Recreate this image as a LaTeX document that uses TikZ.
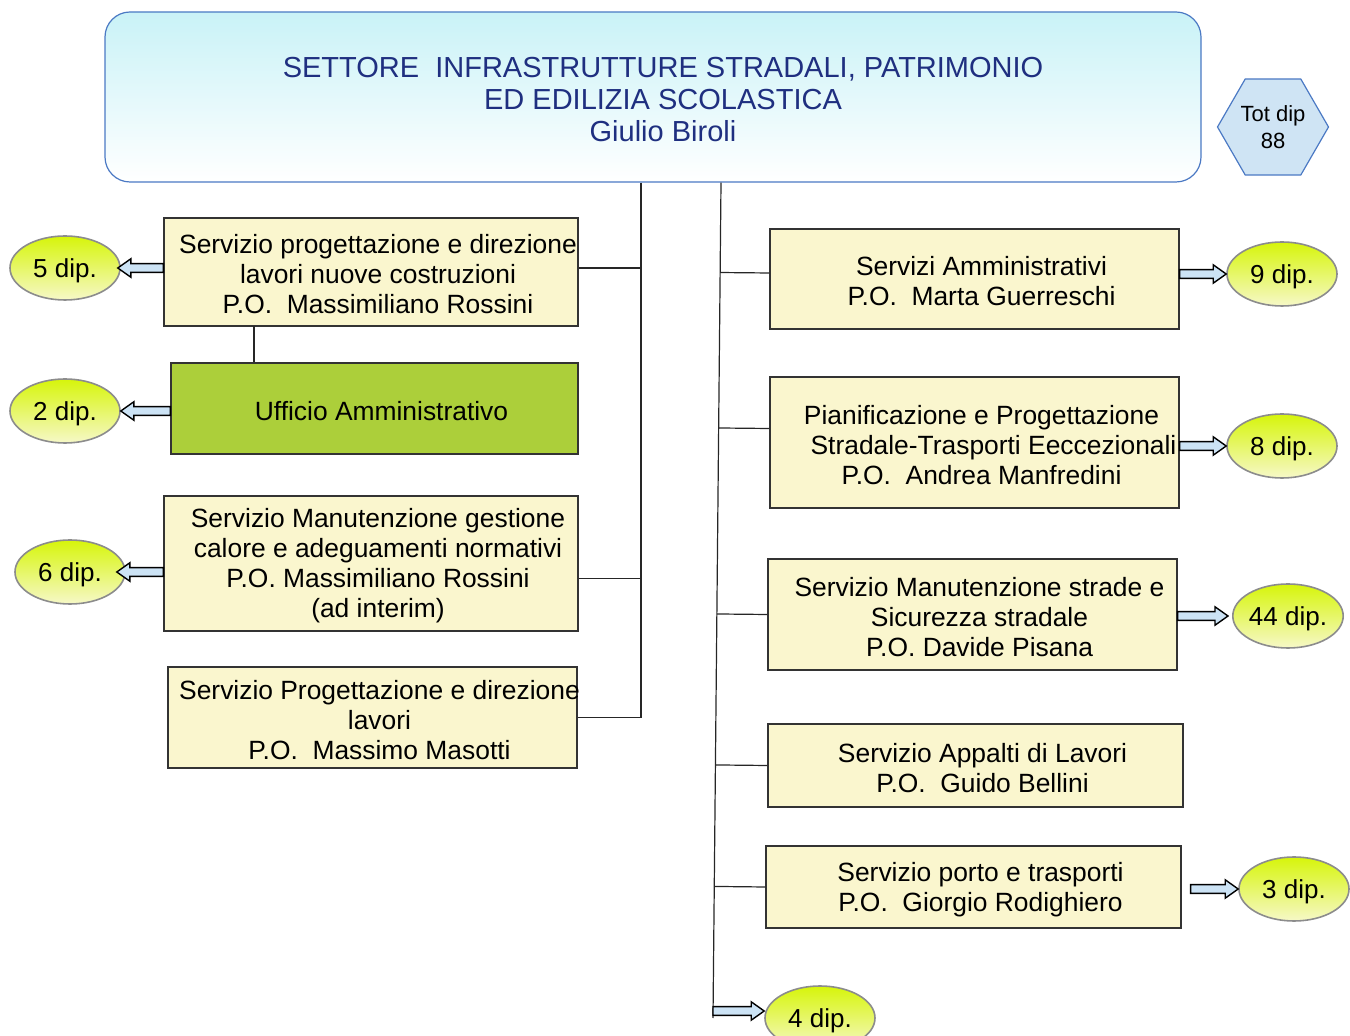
\documentclass[tikz,border=0pt]{standalone}
\usepackage{fontspec}
\setmainfont{Liberation Sans}
\usetikzlibrary{calc,shapes.geometric}

\begin{document}
\begin{tikzpicture}[x = 0.5pt, y = -0.5pt,
  testo/.style = {font = \fontsize{13.2pt}{15pt}\selectfont, align = center, inner sep = 0pt, shift = {(7,2.5)}},
  servizio/.style = {draw = black!80, line width = 0.6pt, fill = boxYellow, inner sep = 0pt},
  dip/.style = {ellipse, draw = black!45, line width = 0.8pt, top color = dipTop, bottom color = dipBottom,
    minimum width = 55pt, minimum height = 32pt, inner sep = 0pt, text depth = 0pt,
    font = \fontsize{13pt}{15pt}\selectfont},
  linea/.style = {draw = black!85, line width = 0.6pt},
  freccia/.style = {draw = black, line width = 0.7pt, fill = arrowBlue, to path = {
    let \p1 = (\tikztostart), \p2 = (\tikztotarget), \n1 = {atan2(\y2-\y1,\x2-\x1)},
        \p3 = ($(\p2)+(\n1+180:6.5pt)$) in
    ($(\p1)+(\n1+90:2.2pt)$) -- ($(\p3)+(\n1+90:2.2pt)$) -- ($(\p3)+(\n1+90:4.6pt)$) -- (\p2)
    -- ($(\p3)+(\n1-90:4.6pt)$) -- ($(\p3)+(\n1-90:2.2pt)$) -- ($(\p1)+(\n1-90:2.2pt)$) -- cycle}}
]
  \definecolor{boxYellow}{HTML}{FAF6CE};
  \definecolor{officeGreen}{HTML}{ACCF3A};
  \definecolor{dipTop}{HTML}{D6F50A};
  \definecolor{dipBottom}{HTML}{F6F8C8};
  \definecolor{arrowBlue}{HTML}{CCE3F5};
  \definecolor{frameBlue}{HTML}{4B79C4};
  \definecolor{headCyan}{HTML}{C9F2F7};
  \definecolor{titleBlue}{HTML}{1F2F80};
  \definecolor{hexBlue}{HTML}{CFE4F4};

  \useasboundingbox (0,0) rectangle (1350,1036);

  % intestazione
  \node[draw = frameBlue, line width = 0.6pt, rounded corners = 12.5pt, top color = headCyan, bottom color = white,
    minimum width = 548pt, minimum height = 85pt] (settore) at (653,97) {};
  \node[testo, shift = {(3,0.5)}, text = titleBlue, font = \fontsize{14.5pt}{16pt}\selectfont] (settoret) at (settore)
    {SETTORE\ \ INFRASTRUTTURE STRADALI, PATRIMONIO\\ED EDILIZIA SCOLASTICA\\Giulio Biroli};
  \node[regular polygon, regular polygon sides = 6, minimum size = 55.5pt, inner sep = 0pt, draw = frameBlue,
    line width = 0.6pt, fill = hexBlue, align = center, font = \fontsize{11pt}{13.5pt}\selectfont] (totdip)
    at (1273,127) {Tot dip\\88};

  % servizi a sinistra
  \node[servizio, minimum width = 207pt, minimum height = 54pt] (l1) at (371,272) {};
  \node[testo] (l1t) at (l1) {Servizio progettazione e direzione\\lavori nuove costruzioni\\P.O.\ \ Massimiliano Rossini};
  \node[servizio, fill = officeGreen, minimum width = 203.5pt, minimum height = 45.5pt] (l2) at (374.5,408.5) {};
  \node[testo] (l2t) at (l2) {Ufficio Amministrativo};
  \node[servizio, minimum width = 207pt, minimum height = 67.5pt] (l3) at (371,563.5) {};
  \node[testo] (l3t) at (l3) {Servizio Manutenzione gestione\\calore e adeguamenti normativi\\P.O. Massimiliano Rossini\\(ad interim)};
  \node[servizio, minimum width = 204.5pt, minimum height = 50.5pt] (l4) at (372.5,717.5) {};
  \node[testo] (l4t) at (l4) {Servizio Progettazione e direzione\\lavori\\P.O.\ \ Massimo Masotti};

  % servizi a destra
  \node[servizio, minimum width = 204.5pt, minimum height = 50pt] (r1) at (974.5,279) {};
  \node[testo] (r1t) at (r1) {Servizi Amministrativi\\P.O.\ \ Marta Guerreschi};
  \node[servizio, minimum width = 204.5pt, minimum height = 65.5pt] (r2) at (974.5,442.5) {};
  \node[testo] (r2t) at (r2) {Pianificazione e Progettazione\\\hspace*{12pt}Stradale-Trasporti Eeccezionali\\P.O.\ \ Andrea Manfredini};
  \node[servizio, minimum width = 204.5pt, minimum height = 55.5pt] (r3) at (972.5,614.5) {};
  \node[testo] (r3t) at (r3) {Servizio Manutenzione strade e\\Sicurezza stradale\\P.O. Davide Pisana};
  \node[servizio, minimum width = 207.5pt, minimum height = 41.5pt] (r4) at (975.5,765.5) {};
  \node[testo] (r4t) at (r4) {Servizio Appalti di Lavori\\P.O.\ \ Guido Bellini};
  \node[servizio, minimum width = 207.5pt, minimum height = 41pt] (r5) at (973.5,887) {};
  \node[testo] (r5t) at (r5) {Servizio porto e trasporti\\P.O.\ \ Giorgio Rodighiero};

  % dipendenti
  \node[dip] (e5) at (65,268) {5 dip.};
  \node[dip] (e2) at (65,411) {2 dip.};
  \node[dip] (e6) at (70,572) {6 dip.};
  \node[dip] (e9) at (1282,274) {9 dip.};
  \node[dip] (e8) at (1282,446) {8 dip.};
  \node[dip] (e44) at (1288,616) {44 dip.};
  \node[dip] (e3) at (1294,889) {3 dip.};
  \node[dip] (e4) at (820,1018) {4 dip.};

  % collegamenti
  \coordinate (sx) at (641,719);
  \coordinate (dxA) at (721,182);
  \coordinate (dxB) at (713,1018);
  \coordinate (dxE) at (713,1011);
  \coordinate (ua) at (254,326);

  \draw[linea] (settore.south -| sx) -- (l4.east -| sx) -- (l4.east);
  \draw[linea] ([yshift = 2pt]l1.east) -- ([yshift = 2pt]l1.east -| sx);
  \draw[linea] ([yshift = -7.5pt]l3.east) -- ([yshift = -7.5pt]l3.east -| sx);
  \draw[linea] (ua) -- (ua |- l2.north);

  \draw[linea] (settore.south -| dxA) -- (dxB);
  \draw[linea] ([yshift = 3pt]r1.west) -- ($(dxA)!([yshift = 3pt]r1.west)!(dxB)$);
  \draw[linea] ([yshift = 7pt]r2.west) -- ($(dxA)!([yshift = 7pt]r2.west)!(dxB)$);
  \draw[linea] (r3.west) -- ($(dxA)!(r3.west)!(dxB)$);
  \draw[linea] (r4.west) -- ($(dxA)!(r4.west)!(dxB)$);
  \draw[linea] (r5.west) -- ($(dxA)!(r5.west)!(dxB)$);

  \draw[freccia] (e5 -| l1.west) to ([xshift = -1.5pt]e5.east);
  \draw[freccia] (e2 -| l2.west) to (e2.east);
  \draw[freccia] (e6 -| l3.west) to ([xshift = -4.5pt]e6.east);
  \draw[freccia] (e9 -| r1.east) to (e9.west);
  \draw[freccia] (e8 -| r2.east) to (e8.west);
  \draw[freccia] (e44 -| r3.east) to ([xshift = -2pt]e44.west);
  \draw[freccia] ([xshift = 4.5pt]e3 -| r5.east) to (e3.west);
  \draw[freccia] (dxE) to (dxE -| e4.west);
\end{tikzpicture}
\end{document}
